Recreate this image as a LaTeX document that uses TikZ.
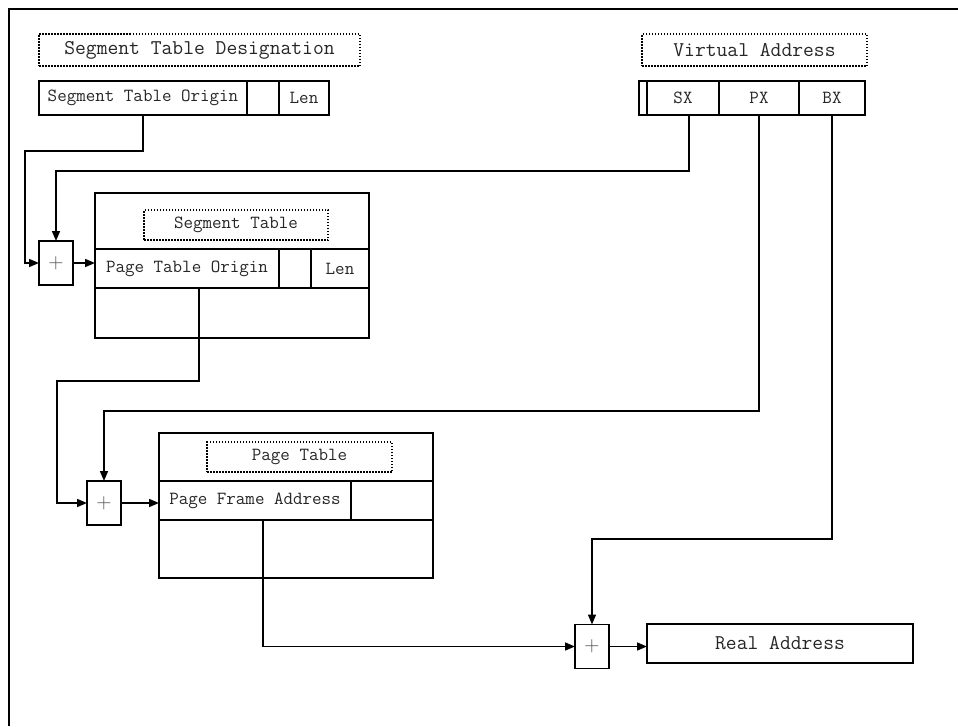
\documentclass[tikz,border=0pt]{standalone}
\usetikzlibrary{arrows.meta,positioning}
\tikzset{
  cell/.style={draw, line width=1.6pt, inner sep=0pt, outer sep=0pt, anchor=north west, text=black!85,
    font=\ttfamily\fontsize{18.5}{22}\selectfont},
  bigcell/.style={cell, font=\ttfamily\fontsize{21}{25}\selectfont},
  titlebox/.style={draw, line width=1.5pt, dash pattern=on 1.5pt off 1.5pt, inner sep=0pt, text=black!85},
  adder/.style={cell, anchor=center, minimum width=34pt, minimum height=44pt, text=black!70,
    font=\fontsize{21}{25}\selectfont},
  conn/.style={line width=1.6pt, -{Triangle[length=10pt,width=8pt]}}
}
\begin{document}
\begin{tikzpicture}[x=1pt,y=-1pt]
\useasboundingbox (0,0) rectangle (958,726);
\draw[line width=1.6pt] (9,726) -- (9,9) -- (958,9);

\node[titlebox, minimum width=321pt, minimum height=32pt, font=\ttfamily\fontsize{21}{25}\selectfont] (std) at (199.5,50) {Segment Table Designation};
\node[cell, minimum width=208pt, minimum height=34pt] (sto) at (39,81) {Segment Table Origin};
\node[cell, minimum width=32pt, minimum height=34pt, right=0pt of sto] (stogap) {};
\node[cell, minimum width=50pt, minimum height=34pt, right=0pt of stogap] (stolen) {Len};

\node[titlebox, minimum width=225pt, minimum height=32pt, font=\ttfamily\fontsize{21}{25}\selectfont] (va) at (754.5,50) {Virtual Address};
\node[cell, minimum width=8pt, minimum height=34pt] (vapad) at (639,81) {};
\node[cell, minimum width=72pt, minimum height=34pt, right=0pt of vapad] (sx) {SX};
\node[cell, minimum width=80pt, minimum height=34pt, right=0pt of sx] (px) {PX};
\node[cell, minimum width=66pt, minimum height=34pt, right=0pt of px] (bx) {BX};

\node[adder] (plus1) at (56,263) {+};
\node[cell, minimum width=274pt, minimum height=145pt] (segtab) at (95,193) {};
\node[titlebox, minimum width=184pt, minimum height=30pt, font=\ttfamily\fontsize{18.5}{22}\selectfont] (segtitle) at (236,225) {Segment Table};
\node[cell, minimum width=184pt, minimum height=39pt] (pto) at (95,249) {Page Table Origin};
\node[cell, minimum width=32pt, minimum height=39pt, right=0pt of pto] (ptogap) {};
\node[cell, minimum width=58pt, minimum height=39pt, right=0pt of ptogap] (ptolen) {Len};

\node[adder] (plus2) at (104,503) {+};
\node[cell, minimum width=274pt, minimum height=145pt] (pagetab) at (159,433) {};
\node[titlebox, minimum width=185pt, minimum height=30pt, font=\ttfamily\fontsize{18.5}{22}\selectfont] (pagetitle) at (299.5,457) {Page Table};
\node[cell, minimum width=192pt, minimum height=39pt] (pfa) at (159,481) {Page Frame Address};
\node[cell, minimum width=82pt, minimum height=39pt, right=0pt of pfa] (pfagap) {};

\node[adder] (plus3) at (592,646.5) {+};
\node[bigcell, minimum width=266pt, minimum height=39pt] (real) at (647,624) {Real Address};

\draw[conn] (sto.south) -- ++(0,36) -| ([xshift=-14pt]plus1.west) -- (plus1.west);
\draw[conn] ([xshift=6pt]sx.south) -- ++(0,56) -| (plus1.north);
\draw[conn] (plus1.east) -- (plus1.east -| pto.west);
\draw[conn] ([xshift=12pt]pto.south) -- ++(0,93) -| ([xshift=-30pt]plus2.west) -- (plus2.west);
\draw[conn] (px.south) -- ++(0,296) -| (plus2.north);
\draw[conn] (plus2.east) -- (plus2.east -| pfa.west);
\draw[conn] ([xshift=8pt]pfa.south) |- (plus3.west);
\draw[conn] (bx.south) -- ++(0,424) -| (plus3.north);
\draw[conn] (plus3.east) -- (plus3.east -| real.west);
\end{tikzpicture}
\end{document}
